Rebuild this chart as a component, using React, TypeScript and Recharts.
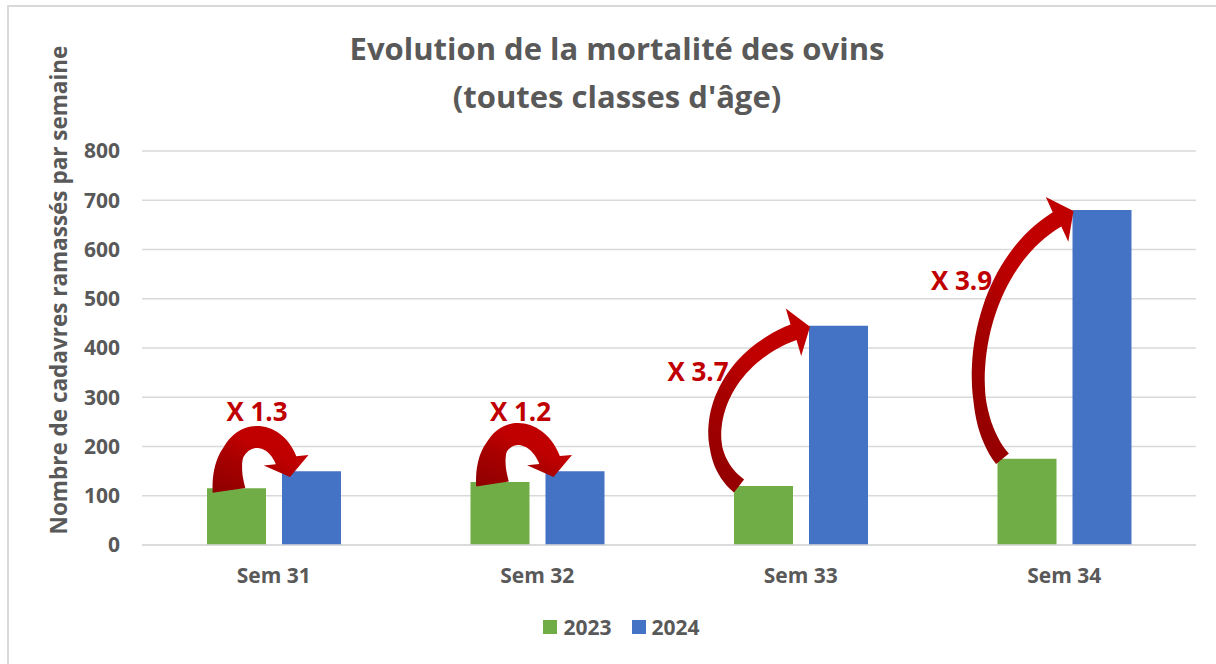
import { BarChart, Bar, XAxis, YAxis, CartesianGrid, Legend, LabelList, Label } from "recharts";

const weeks = ["Sem 31", "Sem 32", "Sem 33", "Sem 34"];
const deaths2023 = [115, 128, 120, 175];
const deaths2024 = [150, 150, 445, 680];
const ratioLabels = ["X 1.3", "X 1.2", "X 3.7", "X 3.9"];
const yTicks = [0, 100, 200, 300, 400, 500, 600, 700, 800];

const data = weeks.map((week, i) => ({
  week,
  y2023: deaths2023[i],
  y2024: deaths2024[i],
}));

const FONT = "'Open Sans', sans-serif";
const GRAY = "#595959";
const BAR_GAP = 16;

type Pt = { x: number; y: number };

const bez = (p0: Pt, p1: Pt, p2: Pt, p3: Pt, t: number): Pt => {
  const u = 1 - t;
  return {
    x: u * u * u * p0.x + 3 * u * u * t * p1.x + 3 * u * t * t * p2.x + t * t * t * p3.x,
    y: u * u * u * p0.y + 3 * u * u * t * p1.y + 3 * u * t * t * p2.y + t * t * t * p3.y,
  };
};

// curved arrow from the top of the 2023 bar to the top of the 2024 bar
const CurvedArrow = (props: any) => {
  const x = Number(props.x);
  const y = Number(props.y);
  const width = Number(props.width);
  const height = Number(props.height);
  const index = props.index as number;

  const base = y + height;
  const perUnit = height / deaths2024[index];
  const greenX = x - BAR_GAP - width;
  const greenTop = base - deaths2023[index] * perUnit;
  const rise = greenTop - y;
  const small = rise < 60;

  let p0: Pt, p1: Pt, p2: Pt, p3: Pt;
  let hw: number, headHalf: number, headLen: number;
  let lx: number, ly: number;
  if (small) {
    p0 = { x: greenX + 22, y: greenTop + 2 };
    p3 = { x: x + 8, y: y + 6 };
    p1 = { x: p0.x - 10, y: p0.y - 66 };
    p2 = { x: p3.x - 6, y: p3.y - 58 };
    hw = 11;
    headHalf = 23;
    headLen = 17;
    lx = greenX + 50;
    ly = y - 60;
  } else {
    p0 = { x: greenX + 5, y: greenTop };
    p3 = { x: x + 1, y: y + 1 };
    p1 = { x: p0.x - 48, y: p0.y - 0.23 * rise };
    p2 = { x: p0.x - 25, y: p3.y + 0.16 * rise };
    hw = 6.5;
    headHalf = 25;
    headLen = 17;
    lx = greenX - 36;
    ly = y + 0.28 * rise;
  }

  let tEnd = 1;
  while (tEnd > 0.5) {
    const p = bez(p0, p1, p2, p3, tEnd);
    if (Math.hypot(p3.x - p.x, p3.y - p.y) >= headLen) break;
    tEnd -= 0.005;
  }

  const left: Pt[] = [];
  const right: Pt[] = [];
  const n = 40;
  for (let i = 0; i <= n; i++) {
    const t = (tEnd * i) / n;
    const a = bez(p0, p1, p2, p3, Math.max(0, t - 0.005));
    const b = bez(p0, p1, p2, p3, Math.min(1, t + 0.005));
    const dx = b.x - a.x;
    const dy = b.y - a.y;
    const len = Math.hypot(dx, dy) || 1;
    const nx = -dy / len;
    const ny = dx / len;
    const p = bez(p0, p1, p2, p3, t);
    let w = hw * (1 + 0.5 * Math.max(0, 1 - t / 0.25));
    if (!small) w *= 0.85 + 0.45 * t;
    left.push({ x: p.x + nx * w, y: p.y + ny * w });
    right.push({ x: p.x - nx * w, y: p.y - ny * w });
  }
  const B = bez(p0, p1, p2, p3, tEnd);
  const dl = Math.hypot(p3.x - B.x, p3.y - B.y) || 1;
  const nnx = -(p3.y - B.y) / dl;
  const nny = (p3.x - B.x) / dl;
  const w1 = { x: B.x + nnx * headHalf, y: B.y + nny * headHalf };
  const w2 = { x: B.x - nnx * headHalf, y: B.y - nny * headHalf };

  const pts = [...left, w1, p3, w2, ...right.reverse()];
  const d = "M" + pts.map((p) => `${p.x.toFixed(1)},${p.y.toFixed(1)}`).join(" L") + " Z";
  const gid = `arrowGrad${index}`;

  return (
    <g>
      <defs>
        <linearGradient id={gid} x1="0" y1="1" x2="0.7" y2="0">
          <stop offset="0%" stopColor="#8E0000" />
          <stop offset="45%" stopColor="#A80000" />
          <stop offset="70%" stopColor="#C00000" />
        </linearGradient>
      </defs>
      <path d={d} fill={`url(#${gid})`} />
      <text
        x={lx}
        y={ly}
        textAnchor="middle"
        dominantBaseline="central"
        fill="#C00000"
        fontFamily={FONT}
        fontWeight={700}
        fontSize={26}
      >
        {ratioLabels[index]}
      </text>
    </g>
  );
};

const YLabel = (props: any) => {
  const vb = props.viewBox;
  const cx = vb.x + 18;
  const cy = vb.y + vb.height / 2 - 58;
  return (
    <text
      x={cx}
      y={cy}
      transform={`rotate(-90, ${cx}, ${cy})`}
      textAnchor="middle"
      dominantBaseline="central"
      fill={GRAY}
      fontFamily={FONT}
      fontWeight={700}
      fontSize={22.5}
    >
      Nombre de cadavres ramassés par semaine
    </text>
  );
};

const LegendContent = (props: any) => (
  <div style={{ display: "flex", justifyContent: "center", gap: 20, paddingLeft: 7, fontFamily: FONT }}>
    {(props.payload || []).map((entry: any) => (
      <div key={entry.value} style={{ display: "flex", alignItems: "center", gap: 6 }}>
        <span style={{ width: 14, height: 14, background: entry.color, display: "inline-block" }} />
        <span style={{ color: GRAY, fontSize: 21, fontWeight: 700 }}>{entry.value}</span>
      </div>
    ))}
  </div>
);

export default function App() {
  return (
    <div style={{ position: "absolute", left: 0, top: 0, width: 1216, height: 664, background: "#fff", overflow: "hidden" }}>
      <div
        style={{
          position: "absolute",
          left: 7,
          top: 5,
          width: 1209,
          height: 659,
          borderLeft: "2px solid #D9D9D9",
          borderTop: "2px solid #D9D9D9",
          boxSizing: "border-box",
        }}
      />
      <div
        style={{
          position: "absolute",
          left: 0,
          top: 24,
          width: 1234,
          textAlign: "center",
          fontFamily: FONT,
          fontWeight: 700,
          fontSize: 31,
          lineHeight: "48px",
          color: GRAY,
        }}
      >
        <div>Evolution de la mortalité des ovins</div>
        <div>(toutes classes d'âge)</div>
      </div>
      <div style={{ position: "absolute", left: 0, top: 0 }}>
        <BarChart
          width={1216}
          height={664}
          data={data}
          margin={{ top: 151, right: 20, left: 40, bottom: 41 }}
          barSize={59}
          barGap={BAR_GAP}
        >
          <CartesianGrid vertical={false} stroke="#D9D9D9" strokeWidth={1.5} />
          <XAxis
            dataKey="week"
            axisLine={{ stroke: "#D9D9D9", strokeWidth: 1.5 }}
            tickLine={false}
            tickSize={0}
            tickMargin={23}
            height={50}
            tick={{ fill: GRAY, fontSize: 21, fontWeight: 700, fontFamily: FONT }}
          />
          <YAxis
            domain={[0, 800]}
            ticks={yTicks}
            axisLine={false}
            tickLine={false}
            tickSize={0}
            tickMargin={22}
            width={102}
            tick={{ fill: GRAY, fontSize: 21, fontWeight: 700, fontFamily: FONT }}
          >
            <Label content={YLabel} />
          </YAxis>
          <Legend verticalAlign="bottom" content={LegendContent} wrapperStyle={{ top: 613, bottom: "auto" }} />
          <Bar dataKey="y2023" name="2023" fill="#70AD47" isAnimationActive={false} />
          <Bar dataKey="y2024" name="2024" fill="#4472C4" isAnimationActive={false}>
            <LabelList dataKey="y2024" content={CurvedArrow} />
          </Bar>
        </BarChart>
      </div>
    </div>
  );
}
